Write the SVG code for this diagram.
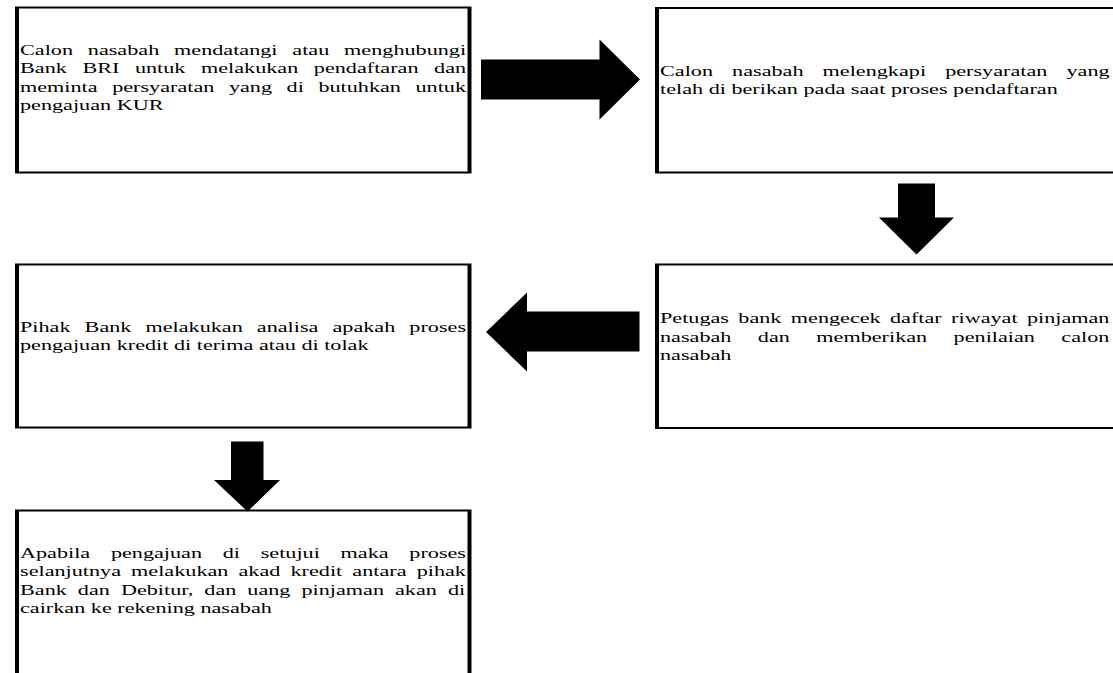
<svg xmlns="http://www.w3.org/2000/svg" width="1113" height="673" viewBox="0 0 1113 673">
<style>
.frame{fill:#000}
.inner{fill:#fff}
.arrow{fill:#000}
text{font-family:"Liberation Serif","Times New Roman",serif;font-size:15.5px;fill:#000}
</style>
<rect x="0" y="0" width="1113" height="673" fill="#fff"/>
<g id="node1">
<rect class="frame" x="15" y="6.5" width="456.5" height="167"/>
<rect class="inner" x="19" y="8.5" width="448.5" height="163"/>
<g transform="translate(20,0) scale(1.432,1)">
<text x="0" y="55" style="word-spacing:6.49px">Calon nasabah mendatangi atau menghubungi</text>
<text x="0" y="73.4" style="word-spacing:7px">Bank BRI untuk melakukan pendaftaran dan</text>
<text x="0" y="91.8" style="word-spacing:6.3px">meminta persyaratan yang di butuhkan untuk</text>
<text x="0" y="110.2">pengajuan KUR</text>
</g>
</g>
<g id="node2">
<rect class="frame" x="655" y="7" width="470" height="166.5"/>
<rect class="inner" x="659" y="9" width="470" height="162.5"/>
<g transform="translate(660,0) scale(1.432,1)">
<text x="0" y="76" style="word-spacing:9.47px">Calon nasabah melengkapi persyaratan yang</text>
<text x="0" y="94.5">telah di berikan pada saat proses pendaftaran</text>
</g>
</g>
<g id="node3">
<rect class="frame" x="655" y="263.5" width="470" height="165.5"/>
<rect class="inner" x="659" y="265.5" width="470" height="161.5"/>
<g transform="translate(660,0) scale(1.432,1)">
<text x="0" y="323.5" style="word-spacing:2.66px">Petugas bank mengecek daftar riwayat pinjaman</text>
<text x="0" y="342" style="word-spacing:14.6px">nasabah dan memberikan penilaian calon</text>
<text x="0" y="360.5">nasabah</text>
</g>
</g>
<g id="node4">
<rect class="frame" x="15" y="263.5" width="456.5" height="165"/>
<rect class="inner" x="19" y="265.5" width="448.5" height="161"/>
<g transform="translate(20,0) scale(1.432,1)">
<text x="0" y="332" style="word-spacing:5.96px">Pihak Bank melakukan analisa apakah proses</text>
<text x="0" y="350.5">pengajuan kredit di terima atau di tolak</text>
</g>
</g>
<g id="node5">
<rect class="frame" x="15" y="509.5" width="456.5" height="180"/>
<rect class="inner" x="19" y="511.5" width="448.5" height="180"/>
<g transform="translate(20,0) scale(1.432,1)">
<text x="0" y="558" style="word-spacing:10.6px">Apabila pengajuan di setujui maka proses</text>
<text x="0" y="576.5" style="word-spacing:3.2px">selanjutnya melakukan akad kredit antara pihak</text>
<text x="0" y="595" style="word-spacing:3.83px">Bank dan Debitur, dan uang pinjaman akan di</text>
<text x="0" y="613.5">cairkan ke rekening nasabah</text>
</g>
</g>
<g id="connectors">
<polygon class="arrow" points="481,59.5 599.5,59.5 599.5,39.5 640,79.5 599.5,119.5 599.5,99.5 481,99.5"/>
<polygon class="arrow" points="898,183.5 935,183.5 935,217.5 954,217.5 916.5,254.5 879,217.5 898,217.5"/>
<polygon class="arrow" points="639.5,311.5 527,311.5 527,292.5 486,332 527,371.5 527,351.5 639.5,351.5"/>
<polygon class="arrow" points="231,441.5 263.5,441.5 263.5,480 280,480 247.5,511.5 214,480 231,480"/>
</g>
</svg>
